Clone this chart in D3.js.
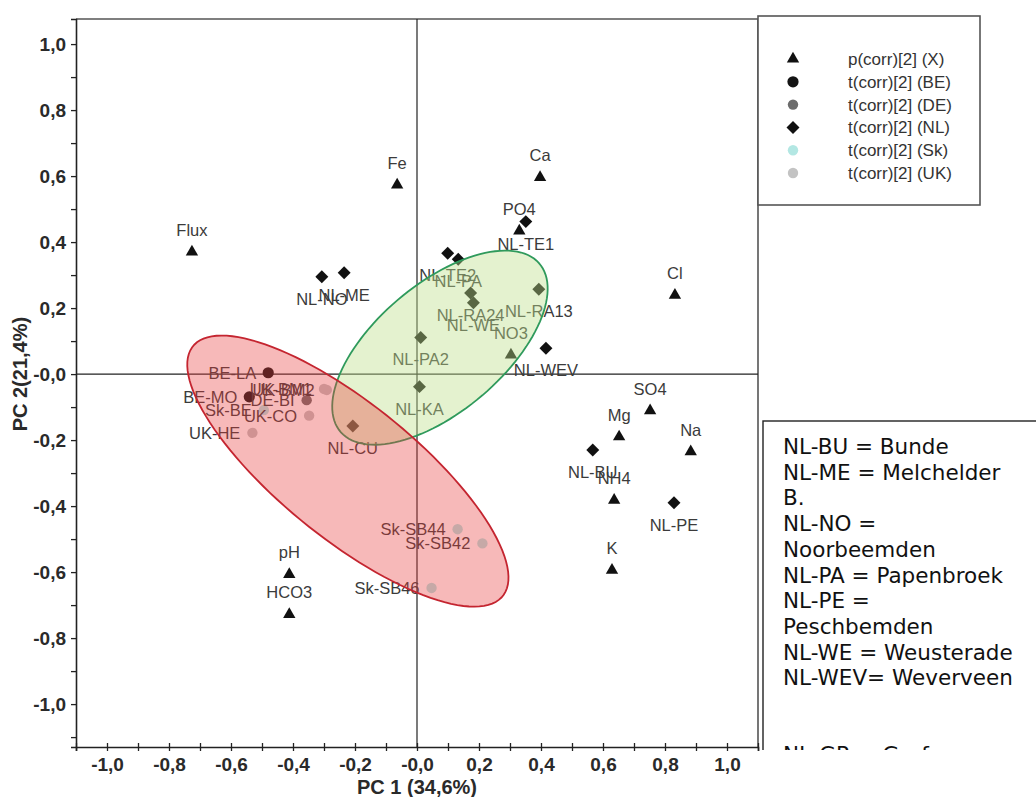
<!DOCTYPE html>
<html>
<head>
<meta charset="utf-8">
<script src="https://cdn.jsdelivr.net/npm/d3@7"></script>
<style>
  body { margin: 0; background: #fff; }
  text { font-family: "Liberation Sans", Arial, sans-serif; }
</style>
</head>
<body>
<svg id="chart" width="1036" height="797"></svg>
<script>
// loadings p(corr)[2] for the measured variables
const varNames = ['Flux', 'Fe', 'Ca', 'PO4', 'Cl', 'NO3', 'SO4', 'Mg', 'Na', 'NH4', 'K', 'pH', 'HCO3'];
const varPC1 = [-0.726, -0.064, 0.397, 0.330, 0.832, 0.303, 0.752, 0.652, 0.883, 0.636, 0.629, -0.412, -0.412];
const varPC2 = [0.370, 0.573, 0.596, 0.434, 0.239, 0.058, -0.111, -0.190, -0.235, -0.382, -0.594, -0.607, -0.728];

// scores t(corr)[2] for the sites
const obsNames = ['NL-NO', 'NL-ME', 'NL-TE1', 'NL-TE2', 'NL-PA', 'NL-RA24', 'NL-WE', 'NL-RA13', 'NL-PA2', 'NL-WEV',
    'NL-KA', 'NL-CU', 'NL-BU', 'NL-PE',
    'BE-LA', 'BE-MO', 'DE-BI', 'UK-BM1', 'UK-BM2', 'UK-CO', 'UK-HE',
    'Sk-BE', 'Sk-SB44', 'Sk-SB42', 'Sk-SB46'];
const obsGroup = ['NL', 'NL', 'NL', 'NL', 'NL', 'NL', 'NL', 'NL', 'NL', 'NL',
    'NL', 'NL', 'NL', 'NL',
    'BE', 'BE', 'DE', 'UK', 'UK', 'UK', 'UK',
    'Sk', 'Sk', 'Sk', 'Sk'];
const obsPC1 = [-0.307, -0.235, 0.351, 0.099, 0.133, 0.173, 0.182, 0.393, 0.012, 0.416,
    0.008, -0.207, 0.567, 0.829,
    -0.480, -0.541, -0.356, -0.300, -0.291, -0.348, -0.531,
    -0.494, 0.131, 0.211, 0.047];
const obsPC2 = [0.295, 0.307, 0.462, 0.366, 0.348, 0.246, 0.216, 0.257, 0.111, 0.078,
    -0.038, -0.157, -0.230, -0.390,
    0.004, -0.069, -0.079, -0.045, -0.048, -0.126, -0.178,
    -0.109, -0.470, -0.513, -0.648];

// legend groups
const groups = ['X', 'BE', 'DE', 'NL', 'Sk', 'UK'];
const groupLabels = ['p(corr)[2] (X)', 't(corr)[2] (BE)', 't(corr)[2] (DE)', 't(corr)[2] (NL)', 't(corr)[2] (Sk)', 't(corr)[2] (UK)'];

// confidence ellipses (data units): centre, semi axes, rotation in degrees
const ellipseNames = ['NL', 'other'];
const ellipseCX = [0.074, -0.223];
const ellipseCY = [0.080, -0.294];
const ellipseRX = [0.41, 0.627];
const ellipseRY = [0.198, 0.21];
const ellipseAngle = [37.3, -36.7];

const axisTicks = d3.range(-11, 12).map(i => i / 10);

const noteLines = ['NL-BU = Bunde', 'NL-ME = Melchelder', 'B.', 'NL-NO =', 'Noorbeemden', 'NL-PA = Papenbroek',
    'NL-PE =', 'Peschbemden', 'NL-WE = Weusterade', 'NL-WEV= Weverveen', '', '', 'NL-GR = Grafven'];

// ---------- styles ----------
const groupColor = { X: '#111', BE: '#141414', DE: '#6c6c6c', NL: '#111', Sk: '#b3e7e3', UK: '#c3c3c3' };
const ellipseStyle = {
    NL: { fill: 'rgba(190,225,140,0.42)', stroke: '#2f9a5c' },
    other: { fill: 'rgba(232,60,60,0.36)', stroke: '#c42530' }
};
const tickFont = '"Liberation Sans Narrow", "Liberation Sans", Arial, sans-serif';

const svg = d3.select('#chart');
svg.append('rect').attr('width', 1036).attr('height', 797).attr('fill', '#fff');

const x = d3.scaleLinear().domain([-1.1, 1.1]).range([76, 758]);
const y = d3.scaleLinear().domain([-1.13, 1.076]).range([747, 19]);

const fmt = v => (v <= 0 ? '-' : '') + Math.abs(v).toFixed(1).replace('.', ',');
const isMajor = v => Math.round(v * 10) % 2 === 0 && Math.abs(v) <= 1.0001;

// frame
svg.append('path')
    .attr('d', `M${x(-1.1)},${y(1.076)}H${x(1.1)}V${y(-1.13)}`)
    .attr('fill', 'none').attr('stroke', '#555').attr('stroke-width', 1.6);

// zero lines
svg.append('line').attr('x1', x(0)).attr('x2', x(0)).attr('y1', y(1.076)).attr('y2', y(-1.13))
    .attr('stroke', '#222').attr('stroke-width', 1.2);
svg.append('line').attr('x1', x(-1.1)).attr('x2', x(1.1)).attr('y1', y(0)).attr('y2', y(0))
    .attr('stroke', '#222').attr('stroke-width', 1.2);

// axes
const xAxis = d3.axisBottom(x).tickValues(axisTicks).tickSize(4).tickPadding(7)
    .tickFormat(d => isMajor(d) ? fmt(d) : '');
const gx = svg.append('g').attr('transform', `translate(0,${y(-1.13)})`).call(xAxis);
gx.selectAll('.tick line').attr('y1', -4).attr('stroke', '#222').attr('stroke-width', 1.3);
gx.select('.domain').attr('stroke', '#222').attr('stroke-width', 1.6);

const yAxis = d3.axisLeft(y).tickValues(axisTicks.filter(v => v <= 1.07)).tickSize(5).tickPadding(5)
    .tickFormat(d => isMajor(d) ? fmt(d) : '');
const gy = svg.append('g').attr('transform', `translate(${x(-1.1)},0)`).call(yAxis);
gy.selectAll('.tick line').attr('stroke', '#222').attr('stroke-width', 1.3);
gy.select('.domain').attr('stroke', '#222').attr('stroke-width', 1.6);

svg.selectAll('.tick text')
    .attr('fill', '#2a2a2a').style('font-size', '19px').style('font-weight', 'bold')
    .style('font-family', tickFont);

svg.append('text')
    .attr('x', x(0)).attr('y', 794).attr('text-anchor', 'middle')
    .attr('fill', '#2a2a2a').style('font-size', '20px').style('font-weight', 'bold')
    .style('font-family', tickFont)
    .text('PC 1 (34,6%)');
svg.append('text')
    .attr('transform', `translate(27,${y(0)}) rotate(-90)`).attr('text-anchor', 'middle')
    .attr('fill', '#2a2a2a').style('font-size', '20px').style('font-weight', 'bold')
    .style('font-family', tickFont)
    .text('PC 2(21,4%)');

// marks
const markerPath = {
    X: d3.symbol(d3.symbolTriangle, 66)(),
    NL: d3.symbol(d3.symbolSquare, 84)()
};
function drawMarker(g, group) {
    if (group === 'X') {
        g.append('path').attr('d', markerPath.X).attr('fill', groupColor.X);
    } else if (group === 'NL') {
        g.append('path').attr('d', markerPath.NL).attr('transform', 'rotate(45)').attr('fill', groupColor.NL);
    } else {
        g.append('circle').attr('r', group === 'BE' ? 5.6 : 5.2).attr('fill', groupColor[group]);
    }
}

const points = varNames.map((n, i) => ({ name: n, group: 'X', pc1: varPC1[i], pc2: varPC2[i] }))
    .concat(obsNames.map((n, i) => ({ name: n, group: obsGroup[i], pc1: obsPC1[i], pc2: obsPC2[i] })));

const marks = svg.append('g');
points.forEach(p => {
    const g = marks.append('g').attr('transform', `translate(${x(p.pc1)},${y(p.pc2)})`);
    drawMarker(g, p.group);
});

// labels: variables above, NL sites below, the rest to the left
const labels = svg.append('g').attr('fill', '#3b3b3b').style('font-size', '16.5px');
points.forEach(p => {
    const px = x(p.pc1), py = y(p.pc2);
    const t = labels.append('text').text(p.name);
    if (p.group === 'X') t.attr('x', px).attr('y', py - 16).attr('text-anchor', 'middle');
    else if (p.group === 'NL') t.attr('x', px).attr('y', py + 28).attr('text-anchor', 'middle');
    else t.attr('x', px - 12).attr('y', py + 6).attr('text-anchor', 'end');
});

// ellipses on top, semi transparent
const ellipseLine = d3.line().curve(d3.curveLinearClosed);
ellipseNames.forEach((name, i) => {
    const a = ellipseAngle[i] * Math.PI / 180;
    const pts = d3.range(0, 360, 3).map(deg => {
        const t = deg * Math.PI / 180;
        const ex = ellipseRX[i] * Math.cos(t), ey = ellipseRY[i] * Math.sin(t);
        return [x(ellipseCX[i] + ex * Math.cos(a) - ey * Math.sin(a)),
                y(ellipseCY[i] + ex * Math.sin(a) + ey * Math.cos(a))];
    });
    svg.append('path').attr('d', ellipseLine(pts))
        .attr('fill', ellipseStyle[name].fill)
        .attr('stroke', ellipseStyle[name].stroke).attr('stroke-width', 1.8);
});

// legend
const legend = svg.append('g');
legend.append('rect').attr('x', 758).attr('y', 16).attr('width', 222).attr('height', 189)
    .attr('fill', '#fff').attr('stroke', '#555').attr('stroke-width', 1.6);
groups.forEach((gname, i) => {
    const ry = 59 + i * 22.8;
    const g = legend.append('g').attr('transform', `translate(793,${ry})`);
    drawMarker(g, gname);
    legend.append('text').attr('x', 848).attr('y', ry + 6)
        .attr('fill', '#333').style('font-size', '17px').text(groupLabels[i]);
});

// notes box (cut off at the picture edge)
svg.append('clipPath').attr('id', 'noteclip')
    .append('rect').attr('x', 762).attr('y', 420).attr('width', 280).attr('height', 330);
const note = svg.append('g').attr('clip-path', 'url(#noteclip)');
note.append('rect').attr('x', 763).attr('y', 421).attr('width', 300).attr('height', 360)
    .attr('fill', '#fff').attr('stroke', '#222').attr('stroke-width', 1.4);
noteLines.forEach((line, i) => {
    note.append('text').attr('x', 783).attr('y', 454 + i * 25.7)
        .attr('fill', '#111').style('font-size', '21.5px')
        .style('font-family', '"DejaVu Sans", Verdana, sans-serif')
        .text(line);
});
</script>
</body>
</html>
